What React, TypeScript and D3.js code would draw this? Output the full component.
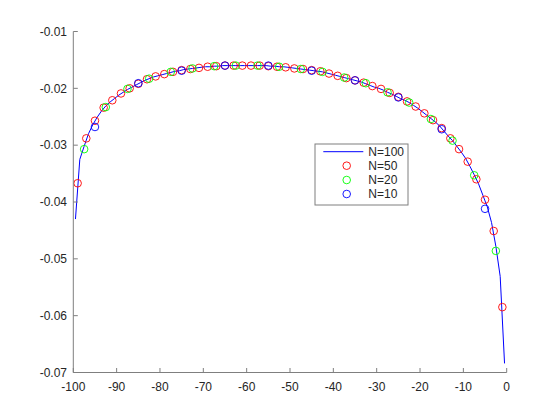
import React from "react";
import * as d3 from "d3";

// N=100 solid line, x = -99.5 ... -0.5
const lineN100: number[] = [
  -0.0430, -0.0325, -0.0302, -0.0280, -0.0264, -0.0251, -0.0240, -0.0231, -0.0224, -0.0218,
  -0.0212, -0.0207, -0.0202, -0.0198, -0.0194, -0.0190, -0.0186, -0.0183, -0.0180, -0.0178,
  -0.0176, -0.0174, -0.0172, -0.0170, -0.0169, -0.0167, -0.0166, -0.0165, -0.0164, -0.0163,
  -0.0162, -0.0162, -0.0161, -0.0161, -0.0160, -0.0160, -0.0160, -0.0160, -0.0160, -0.0160,
  -0.0160, -0.0160, -0.0160, -0.0160, -0.0160, -0.0161, -0.0161, -0.0162, -0.0162, -0.0163,
  -0.0164, -0.0165, -0.0166, -0.0167, -0.0168, -0.0169, -0.0170, -0.0171, -0.0173, -0.0175,
  -0.0177, -0.0179, -0.0181, -0.0183, -0.0185, -0.0187, -0.0189, -0.0192, -0.0195, -0.0198,
  -0.0200, -0.0203, -0.0207, -0.0210, -0.0214, -0.0218, -0.0221, -0.0225, -0.0230, -0.0235,
  -0.0241, -0.0247, -0.0253, -0.0259, -0.0266, -0.0275, -0.0284, -0.0292, -0.0302, -0.0312,
  -0.0323, -0.0337, -0.0352, -0.0368, -0.0388, -0.0408, -0.0436, -0.0478, -0.0531, -0.0684,
];

// N=50 red circles, x = -99, -97, ..., -1
const pointsN50: number[] = [
  -0.0367, -0.0288, -0.0257, -0.0234, -0.0221, -0.0209, -0.0200, -0.0192, -0.0184, -0.0179,
  -0.0175, -0.0171, -0.0168, -0.0166, -0.0164, -0.0162, -0.0161, -0.0160, -0.0160, -0.0160,
  -0.0160, -0.0160, -0.0161, -0.0162, -0.0163, -0.0165, -0.0166, -0.0168, -0.0170, -0.0174,
  -0.0178, -0.0182, -0.0186, -0.0190, -0.0196, -0.0201, -0.0208, -0.0215, -0.0223, -0.0232,
  -0.0244, -0.0256, -0.0270, -0.0288, -0.0307, -0.0329, -0.0360, -0.0396, -0.0451, -0.0585,
];

// N=20 green circles, x = -97.5, -92.5, ..., -2.5
const pointsN20: number[] = [
  -0.0307, -0.0233, -0.0201, -0.0183, -0.0171, -0.0165, -0.0161, -0.0160, -0.0160, -0.0162,
  -0.0166, -0.0171, -0.0181, -0.0191, -0.0207, -0.0225, -0.0254, -0.0292, -0.0353, -0.0486,
];

// N=10 blue circles, x = -95, -85, ..., -5
const pointsN10: number[] = [
  -0.0268, -0.0191, -0.0169, -0.0160, -0.0160, -0.0169, -0.0186, -0.0216, -0.0272, -0.0412,
];

const xTicks: number[] = [-100, -90, -80, -70, -60, -50, -40, -30, -20, -10, 0];
const yTicks: number[] = [-0.07, -0.06, -0.05, -0.04, -0.03, -0.02, -0.01];
const legendLabels: string[] = ["N=100", "N=50", "N=20", "N=10"];

const midpoints = (n: number) => d3.range(n).map((i) => -100 + (100 / n) * (i + 0.5));

export default function App() {
  const W = 560, H = 420;
  const left = 73.3, right = 506.7, top = 31.5, bottom = 372.5;
  const x = d3.scaleLinear().domain([-100, 0]).range([left, right]);
  const y = d3.scaleLinear().domain([-0.07, -0.01]).range([bottom, top]);
  const axisColor = "#7f7f7f";
  const textColor = "#262626";
  const font = "'Liberation Sans', Arial, Helvetica, sans-serif";

  const x100 = midpoints(100);
  const x50 = midpoints(50);
  const x20 = midpoints(20);
  const x10 = midpoints(10);

  const line = d3.line<number>().x((_, i) => x(x100[i])).y((d) => y(d));

  const series = [
    { vals: pointsN50, xs: x50, color: "#ff0000" },
    { vals: pointsN20, xs: x20, color: "#00ff00" },
    { vals: pointsN10, xs: x10, color: "#0000ff" },
  ];

  const r = 3.8;
  const lg = { x: 315, y: 144, w: 93, h: 61 };
  const rowY = [151.7, 165.7, 180, 194];
  const fmtY = (t: number) => d3.format(".2f")(t).replace("\u2212", "-");

  return (
    <div style={{ position: "fixed", left: 0, top: 0 }}>
      <svg width={W} height={H} style={{ display: "block", background: "#fff" }}>
        <rect x={0} y={0} width={W} height={H} fill="#ffffff" />
        <path d={line(lineN100) || ""} fill="none" stroke="#0000ff" strokeWidth={1} />
        {series.map((s, si) => (
          <g key={si}>
            {s.vals.map((v, i) => (
              <circle key={i} cx={x(s.xs[i])} cy={y(v)} r={r} fill="none" stroke={s.color} strokeWidth={0.9} />
            ))}
          </g>
        ))}
        {/* axes */}
        <line x1={left} x2={right} y1={bottom} y2={bottom} stroke={axisColor} strokeWidth={1} />
        <line x1={left} x2={left} y1={top} y2={bottom} stroke={axisColor} strokeWidth={1} />
        {xTicks.map((t) => (
          <g key={"x" + t}>
            <line x1={x(t)} x2={x(t)} y1={bottom} y2={bottom - 4.5} stroke={axisColor} strokeWidth={1} />
            <text x={x(t)} y={391} textAnchor="middle" fontFamily={font} fontSize={12} fill={textColor}>
              {String(t)}
            </text>
          </g>
        ))}
        {yTicks.map((t) => (
          <g key={"y" + t}>
            <line x1={left} x2={left + 4.5} y1={y(t)} y2={y(t)} stroke={axisColor} strokeWidth={1} />
            <text x={67} y={y(t)} dy="0.35em" textAnchor="end" fontFamily={font} fontSize={12} fill={textColor}>
              {fmtY(t)}
            </text>
          </g>
        ))}
        {/* legend */}
        <rect x={lg.x} y={lg.y} width={lg.w} height={lg.h} fill="#ffffff" stroke={axisColor} strokeWidth={1} />
        <line x1={323.3} x2={363.3} y1={rowY[0]} y2={rowY[0]} stroke="#0000ff" strokeWidth={1} />
        {series.map((s, si) => (
          <circle key={si} cx={346.7} cy={rowY[si + 1]} r={r} fill="none" stroke={s.color} strokeWidth={0.9} />
        ))}
        {legendLabels.map((l, i) => (
          <text key={l} x={368.3} y={rowY[i]} dy="0.35em" fontFamily={font} fontSize={12} fill={textColor}>
            {l}
          </text>
        ))}
      </svg>
    </div>
  );
}
